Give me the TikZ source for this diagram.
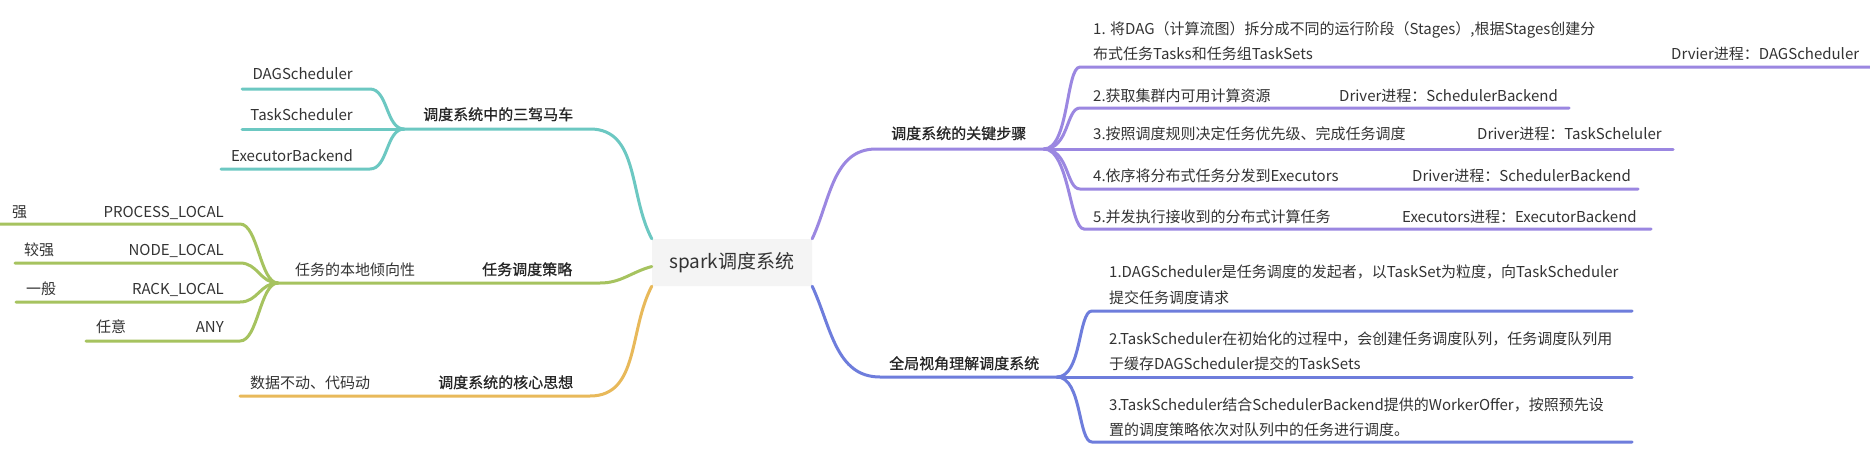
\documentclass[tikz,border=0pt]{standalone}
\usepackage{xcolor}
\usepackage{tikz}
\usepackage{fontspec}
\setmainfont{Noto Sans CJK SC}
\newfontfamily\headfont{Noto Sans CJK SC}[FakeBold=0.9]
\usetikzlibrary{calc}

\definecolor{tealline}{HTML}{6CC8C2}
\definecolor{greenline}{HTML}{A6C35F}
\definecolor{orangeline}{HTML}{E8B95A}
\definecolor{purpleline}{HTML}{9B87E1}
\definecolor{blueline}{HTML}{6E7DDC}
\definecolor{hubgray}{HTML}{F4F4F4}
\definecolor{textgray}{HTML}{333333}

\begin{document}
\begin{tikzpicture}[x=1pt,y=-1pt,
	txt/.style={font=\fontsize{15}{18}\selectfont,text=textgray,inner sep=0pt},
	head/.style={txt,font=\fontsize{15}{18}\selectfont\headfont,text=black!85},
	hub/.style={fill=hubgray,rounded corners=2pt,minimum width=160pt,minimum height=47pt,inner sep=0pt,font=\fontsize{19}{22}\selectfont,text=textgray},
	limb/.style={line width=3pt,line cap=round},
	rbend/.style={out=0,in=180,out distance=25pt,in distance=14pt},
	lbend/.style={out=180,in=0,out distance=18pt,in distance=18pt}]
		\path[use as bounding box,fill=white] (0,0) rectangle (1870,458);
		
		% centre
		\node[hub] (hub) at (732,262.5) {spark调度系统};
		
		% junctions and knees
		\coordinate (jTeal) at (404,129);
		\coordinate (jGreen) at (278,283);
		\coordinate (jPurple) at (1044,149);
		\coordinate (jBlue) at (1057,377);
		\coordinate (tealKnee) at (590,129);
		\coordinate (greenKnee) at (600,283);
		\coordinate (orangeKnee) at (590,396);
		\coordinate (coreEnd) at (240,396);
		\coordinate (purpleKnee) at (876,149);
		\coordinate (blueKnee) at (880,377);
		
		% main branches
		\draw[limb,tealline] (hub.north west) to[out=118,in=0] (tealKnee) -- (jTeal);
		\draw[limb,greenline] ([yshift=-4pt]hub.west) to[out=195,in=0] (greenKnee) -- (jGreen);
		\draw[limb,orangeline] (hub.south west) to[out=242,in=0] (orangeKnee) -- (coreEnd);
		\draw[limb,purpleline] (hub.north east) to[out=65,in=180] (purpleKnee) -- (jPurple);
		\draw[limb,blueline] (hub.south east) to[out=-65,in=180] (blueKnee) -- (jBlue);
		
		% three carriages
		\node[head,anchor=base west] (three) at (423,120) {调度系统中的三驾马车};
		\node[txt,anchor=base east] (dag) at (353,79) {DAGScheduler};
		\node[txt,anchor=base east] (task) at (353,120) {TaskScheduler};
		\node[txt,anchor=base east] (exec) at (353,161) {ExecutorBackend};
		\coordinate (dagEnd) at (370,89);
		\coordinate (execEnd) at (370,169);
		\draw[limb,tealline] (jTeal) to[lbend] (dagEnd) -- ++(-128,0);
		\draw[limb,tealline] (jTeal) -- ++(-162,0);
		\draw[limb,tealline] (jTeal) to[lbend] (execEnd) -- ++(-149,0);
		
		% scheduling strategy
		\node[head,anchor=base west] (strategy) at (482,275) {任务调度策略};
		\node[txt,anchor=base west] (locality) at (295,275) {任务的本地倾向性};
		\node[txt,anchor=base west] (lv1) at (12,217) {强};
		\node[txt,anchor=base east] (process) at (224,217) {PROCESS\_LOCAL};
		\node[txt,anchor=base west] (lv2) at (24,255) {较强};
		\node[txt,anchor=base east] (nodelocal) at (224,255) {NODE\_LOCAL};
		\node[txt,anchor=base west] (lv3) at (26,294) {一般};
		\node[txt,anchor=base east] (rack) at (224,294) {RACK\_LOCAL};
		\node[txt,anchor=base west] (lv4) at (96,332) {任意};
		\node[txt,anchor=base east] (any) at (224,332) {ANY};
		\coordinate (processEnd) at (240,224);
		\coordinate (nodeEnd) at (240,263);
		\coordinate (rackEnd) at (240,302);
		\coordinate (anyEnd) at (240,341);
		\draw[limb,greenline] (jGreen) to[lbend] (processEnd) -- ++(-240,0);
		\draw[limb,greenline] (jGreen) to[lbend] (nodeEnd) -- ++(-225,0);
		\draw[limb,greenline] (jGreen) to[lbend] (rackEnd) -- ++(-224,0);
		\draw[limb,greenline] (jGreen) to[lbend] (anyEnd) -- ++(-154,0);
		
		% core idea
		\node[head,anchor=base west] (core) at (438,388) {调度系统的核心思想};
		\node[txt,anchor=base west] (idea) at (250,388) {数据不动、代码动};
		
		% key steps
		\node[head,anchor=base west] (steps) at (891,139) {调度系统的关键步骤};
		\node[txt,anchor=base west] (s1a) at (1093,34) {1. 将DAG（计算流图）拆分成不同的运行阶段（Stages）,根据Stages创建分};
		\node[txt,anchor=base west] (s1b) at (1093,59) {布式任务Tasks和任务组TaskSets};
		\node[txt,anchor=base west] (s1c) at (1671,59) {Drvier进程：DAGScheduler};
		\node[txt,anchor=base west] (s2a) at (1093,101) {2.获取集群内可用计算资源};
		\node[txt,anchor=base west] (s2b) at (1339,101) {Driver进程：SchedulerBackend};
		\node[txt,anchor=base west] (s3a) at (1093,139) {3.按照调度规则决定任务优先级、完成任务调度};
		\node[txt,anchor=base west] (s3b) at (1477,139) {Driver进程：TaskScheluler};
		\node[txt,anchor=base west] (s4a) at (1093,181) {4.依序将分布式任务分发到Executors};
		\node[txt,anchor=base west] (s4b) at (1412,181) {Driver进程：SchedulerBackend};
		\node[txt,anchor=base west] (s5a) at (1093,222) {5.并发执行接收到的分布式计算任务};
		\node[txt,anchor=base west] (s5b) at (1402,222) {Executors进程：ExecutorBackend};
		\coordinate (s1Start) at (1080,67);
		\coordinate (s2Start) at (1080,108);
		\coordinate (s4Start) at (1080,189);
		\coordinate (s5Start) at (1084,229);
		\draw[limb,purpleline] (jPurple) to[rbend] (s1Start) -- ++(790,0);
		\draw[limb,purpleline] (jPurple) to[rbend] (s2Start) -- ++(489,0);
		\draw[limb,purpleline] (jPurple) -- ++(629,0);
		\draw[limb,purpleline] (jPurple) to[rbend] (s4Start) -- ++(558,0);
		\draw[limb,purpleline] (jPurple) to[rbend] (s5Start) -- ++(567,0);
		
		% global view
		\node[head,anchor=base west] (global) at (889,369) {全局视角理解调度系统};
		\node[txt,anchor=base west] (g1a) at (1109,277) {1.DAGScheduler是任务调度的发起者，以TaskSet为粒度，向TaskScheduler};
		\node[txt,anchor=base west] (g1b) at (1109,303) {提交任务调度请求};
		\node[txt,anchor=base west] (g2a) at (1109,344) {2.TaskScheduler在初始化的过程中，会创建任务调度队列，任务调度队列用};
		\node[txt,anchor=base west] (g2b) at (1109,369) {于缓存DAGScheduler提交的TaskSets};
		\node[txt,anchor=base west] (g3a) at (1109,410) {3.TaskScheduler结合SchedulerBackend提供的WorkerOffer，按照预先设};
		\node[txt,anchor=base west] (g3b) at (1109,435) {置的调度策略依次对队列中的任务进行调度。};
		\coordinate (g1Start) at (1092,311);
		\coordinate (g3Start) at (1092,442);
		\draw[limb,blueline] (jBlue) to[rbend] (g1Start) -- ++(540,0);
		\draw[limb,blueline] (jBlue) -- ++(575,0);
		\draw[limb,blueline] (jBlue) to[rbend] (g3Start) -- ++(540,0);
	\end{tikzpicture}
\end{document}
